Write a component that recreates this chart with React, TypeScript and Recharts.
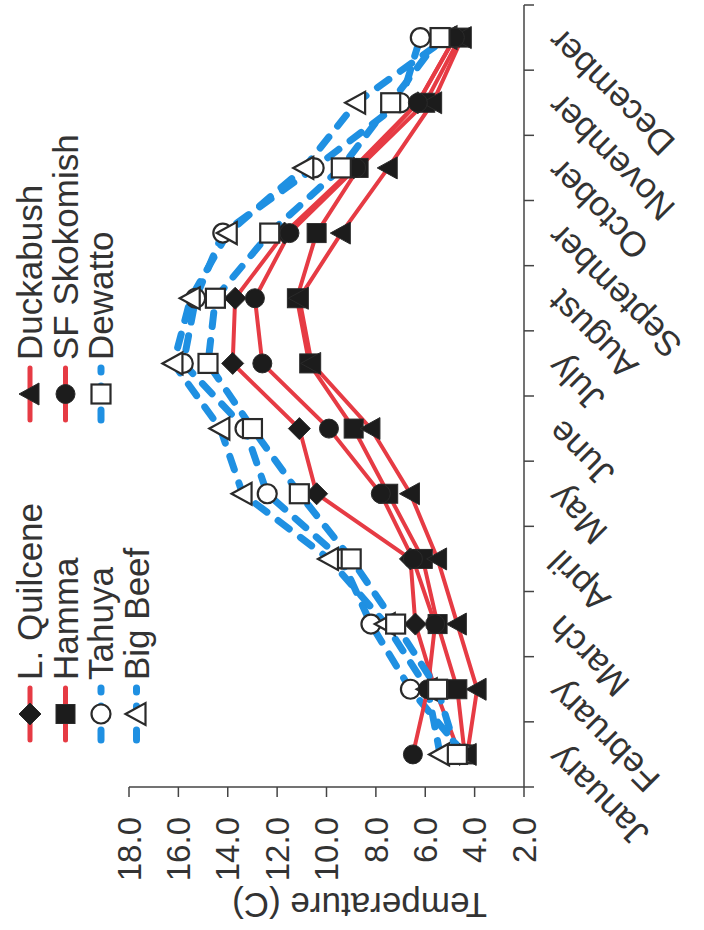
import React from 'react';
import { LineChart, Line, XAxis, YAxis, Legend } from 'recharts';

const months = [
  'January', 'February', 'March', 'April', 'May', 'June',
  'July', 'August', 'September', 'October', 'November', 'December',
];

// mean monthly temperature (C)
const lQuilcene = [4.6, 5.6, 6.4, 6.6, 10.4, 11.1, 13.8, 13.7, 11.7, 8.9, 6.3, 4.8];
const hamma = [4.4, 4.7, 5.5, 6.1, 7.5, 8.9, 10.7, 11.2, 10.4, 8.7, 6.0, 4.6];
const tahuya = [4.4, 6.6, 8.2, 9.4, 12.4, 13.3, 15.8, 15.3, 14.2, 10.5, 7.0, 6.2];
const bigBeef = [5.4, 5.9, 7.6, 9.9, 13.4, 14.3, 16.2, 15.5, 14.0, 10.9, 8.8, 5.1];
const duckabush = [4.3, 3.9, 4.7, 5.5, 6.6, 8.2, 10.6, 11.1, 9.4, 7.5, 5.7, 4.5];
const sfSkokomish = [6.5, 5.9, 5.6, 6.5, 7.8, 9.9, 12.6, 12.9, 11.5, 8.8, 6.3, 4.8];
const dewatto = [4.7, 5.5, 7.2, 9.0, 11.1, 13.0, 14.8, 14.5, 12.3, 9.4, 7.4, 5.4];

const tempTicks = [2, 4, 6, 8, 10, 12, 14, 16, 18];

const RED = '#e63b44';
const BLUE = '#1f90e2';
const INK = '#333';
const FONT = '"Liberation Sans", Arial, sans-serif';

const W = 930;
const H = 704;
const MARGIN = { top: 129, right: 5, left: 0, bottom: 0 };
const Y_W = 143;
const X_H = 180;
const BAND = (W - MARGIN.left - MARGIN.right - Y_W) / months.length;

type Shape = 'diamond' | 'square' | 'circle' | 'triangle';

const series: { key: string; name: string; values: number[]; shape: Shape; filled: boolean; dashed: boolean }[] = [
  { key: 'lq', name: 'L. Quilcene', values: lQuilcene, shape: 'diamond', filled: true, dashed: false },
  { key: 'ha', name: 'Hamma', values: hamma, shape: 'square', filled: true, dashed: false },
  { key: 'ta', name: 'Tahuya', values: tahuya, shape: 'circle', filled: false, dashed: true },
  { key: 'bb', name: 'Big Beef', values: bigBeef, shape: 'triangle', filled: false, dashed: true },
  { key: 'du', name: 'Duckabush', values: duckabush, shape: 'triangle', filled: true, dashed: false },
  { key: 'sf', name: 'SF Skokomish', values: sfSkokomish, shape: 'circle', filled: true, dashed: false },
  { key: 'de', name: 'Dewatto', values: dewatto, shape: 'square', filled: false, dashed: true },
];

const data = months.map((m, i) => {
  const row: Record<string, number | string> = { month: m, pos: i + 0.5 };
  series.forEach((s) => { row[s.key] = s.values[i]; });
  return row;
});

function Marker({ cx, cy, shape, filled }: { cx: number; cy: number; shape: Shape; filled: boolean }) {
  const fill = filled ? '#1c1c1c' : '#fff';
  const sw = filled ? 1 : 2.2;
  const common = { fill, stroke: '#2a2a2a', strokeWidth: sw };
  if (shape === 'square') return <rect x={cx - 9.5} y={cy - 9.5} width={19} height={19} {...common} />;
  if (shape === 'circle') return <circle cx={cx} cy={cy} r={9.5} {...common} />;
  if (shape === 'diamond')
    return <polygon points={`${cx},${cy - 11} ${cx + 11},${cy} ${cx},${cy + 11} ${cx - 11},${cy}`} {...common} />;
  return <polygon points={`${cx},${cy - 11} ${cx + 11},${cy + 9} ${cx - 11},${cy + 9}`} {...common} />;
}

const MonthTick = (props: any) => {
  const { x, y, payload } = props;
  const i = payload.value;
  if (i >= months.length) return null;
  const cx = x + BAND / 2 + 2;
  const cy = y + 18;
  return (
    <text x={cx} y={cy} transform={`rotate(-45 ${cx} ${cy})`} textAnchor="end" dominantBaseline="central"
      fontSize={35} fill={INK} fontFamily={FONT}>
      {months[i]}
    </text>
  );
};

const AxisTitle = (props: any) => {
  const vb = props.viewBox || {};
  const x = 25;
  const y = vb.y + vb.height / 2 + 33;
  return (
    <text x={x} y={y} transform={`rotate(-90 ${x} ${y})`} textAnchor="middle" dominantBaseline="central"
      fontSize={35} fill={INK} fontFamily={FONT}>
      Temperature (C)
    </text>
  );
};

const renderLegend = () => {
  const cols = [{ x: 190, items: series.slice(0, 4) }, { x: 510, items: series.slice(4) }];
  return (
    <svg width={W} height={160} style={{ display: 'block' }}>
      {cols.map((c) =>
        c.items.map((s, r) => {
          const y = 30 + r * 35.5;
          return (
            <g key={s.key}>
              <line x1={c.x} x2={c.x + 52} y1={y} y2={y} stroke={s.dashed ? BLUE : RED}
                strokeWidth={s.dashed ? 7 : 5} strokeDasharray={s.dashed ? '10 14' : undefined} strokeLinecap="round" />
              <Marker cx={c.x + 26} cy={y} shape={s.shape} filled={s.filled} />
              <text x={c.x + 60} y={y + 12} fontSize={35} fill={INK} fontFamily={FONT}>{s.name}</text>
            </g>
          );
        })
      )}
    </svg>
  );
};

export default function App() {
  return (
    <div style={{ position: 'fixed', top: 0, left: 0, width: 704, height: 930, overflow: 'hidden', background: '#fff' }}>
      <div style={{ position: 'absolute', left: 0, top: 0, width: W, height: H, transformOrigin: '0 0',
        transform: `translate(0px, ${W}px) rotate(-90deg)` }}>
        <LineChart width={W} height={H} data={data} margin={MARGIN}>
          <XAxis type="number" dataKey="pos" domain={[0, months.length]} ticks={months.map((_, i) => i).concat(months.length)}
            interval={0} height={X_H} tickSize={10} tick={<MonthTick />} axisLine={{ stroke: '#444', strokeWidth: 1.5 }}
            tickLine={{ stroke: '#444', strokeWidth: 1.5 }} />
          <YAxis type="number" domain={[2, 18]} ticks={tempTicks} interval={0} width={Y_W} tickSize={10} tickMargin={20}
            tickFormatter={(v: number) => v.toFixed(1)} tick={{ fontSize: 33, fill: INK, fontFamily: FONT }}
            axisLine={{ stroke: '#444', strokeWidth: 1.5 }} tickLine={{ stroke: '#444', strokeWidth: 1.5 }}
            label={<AxisTitle />} />
          <Legend layout="horizontal" verticalAlign="middle" align="center" content={renderLegend}
            wrapperStyle={{ top: 0, left: 0, width: W, height: 160 }} />
          {series.map((s) => (
            <Line key={s.key} type="linear" dataKey={s.key} name={s.name} isAnimationActive={false}
              stroke={s.dashed ? BLUE : RED} strokeWidth={s.dashed ? 7 : 4}
              strokeDasharray={s.dashed ? '14 14' : undefined} strokeLinecap="round"
              dot={(p: any) => <Marker key={`${s.key}-${p.index}`} cx={p.cx} cy={p.cy} shape={s.shape} filled={s.filled} />}
              activeDot={false} />
          ))}
        </LineChart>
      </div>
    </div>
  );
}
